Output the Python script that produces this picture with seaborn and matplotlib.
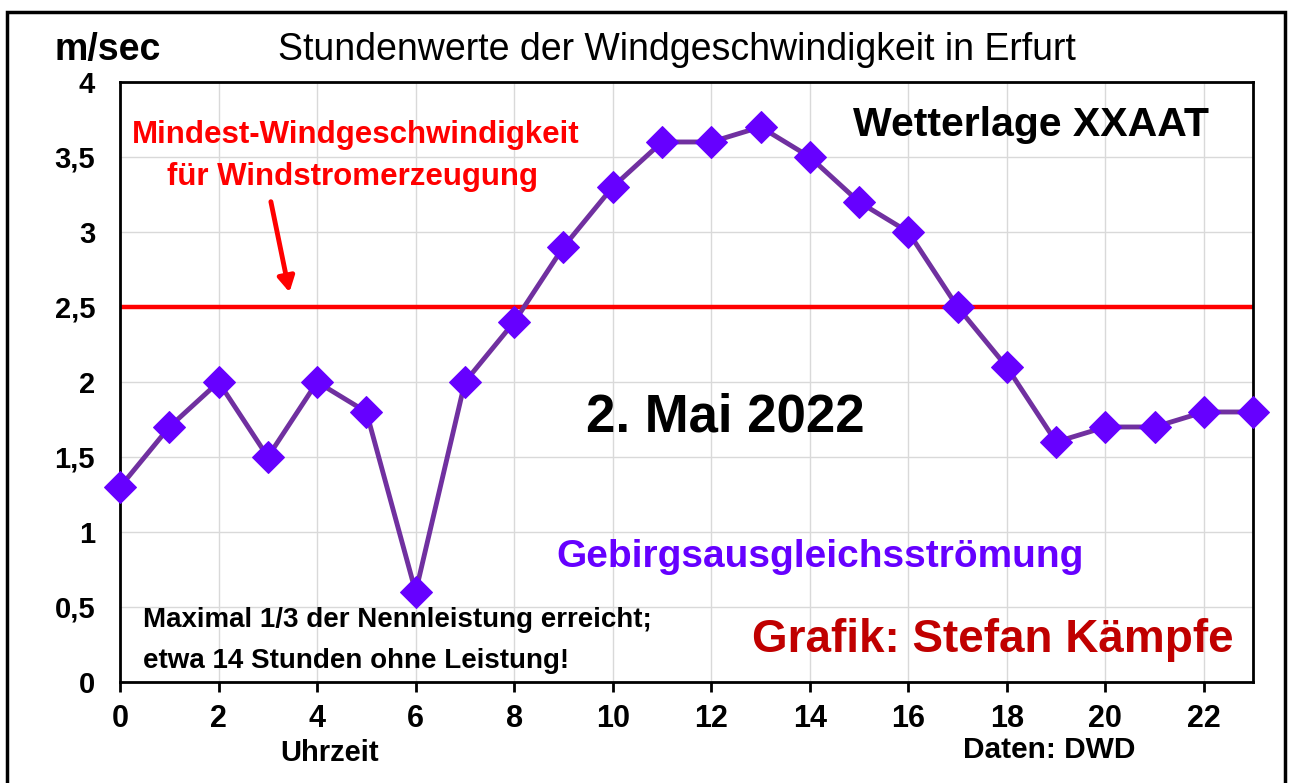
import numpy as np
import pandas as pd
import matplotlib
matplotlib.use("Agg")
import matplotlib.pyplot as plt
import seaborn as sns
from matplotlib.patches import Rectangle

# hourly wind speed Erfurt, 2 May 2022 (m/sec)
hours = list(range(24))
wind_speed = [1.3, 1.7, 2.0, 1.5, 2.0, 1.8, 0.6, 2.0, 2.4, 2.9, 3.3, 3.6,
              3.6, 3.7, 3.5, 3.2, 3.0, 2.5, 2.1, 1.6, 1.7, 1.7, 1.8, 1.8]
threshold = 2.5
x_ticks = list(range(0, 23, 2))
y_ticks = [0, 0.5, 1, 1.5, 2, 2.5, 3, 3.5, 4]
y_tick_labels = ["0", "0,5", "1", "1,5", "2", "2,5", "3", "3,5", "4"]

df = pd.DataFrame({"Uhrzeit": hours, "Wind": wind_speed})

sns.set_style("whitegrid")
plt.rcParams["font.family"] = ["Liberation Sans", "DejaVu Sans"]
plt.rcParams["text.color"] = "black"
plt.rcParams["xtick.color"] = "black"
plt.rcParams["ytick.color"] = "black"
plt.rcParams["axes.labelcolor"] = "black"

fig = plt.figure(figsize=(12.91, 7.83), dpi=100)
ax = fig.add_axes([0.093, 0.129, 0.8777, 0.7663])

ax.axhline(threshold, color="#FF0000", lw=3.2, zorder=2)
sns.lineplot(data=df, x="Uhrzeit", y="Wind", ax=ax, color="#7030A0", lw=3.5,
             marker="D", markersize=16, markerfacecolor="#6600FF",
             markeredgecolor="#6600FF", zorder=3, clip_on=False)

ax.set_xlim(0, 23)
ax.set_ylim(0, 4)
ax.set_xticks(x_ticks)
ax.set_yticks(y_ticks)
ax.set_yticklabels(y_tick_labels)
ax.set_xlabel("")
ax.set_ylabel("")
ax.grid(True, color="#D9D9D9", lw=1)
for s in ax.spines.values():
    s.set_color("black")
    s.set_linewidth(2)
    s.set_visible(True)
ax.tick_params(axis="x", direction="out", length=7, width=2, color="black",
               labelsize=22, pad=9, bottom=True)
ax.tick_params(axis="y", length=0, labelsize=21, pad=18)
for lab in ax.get_xticklabels() + ax.get_yticklabels():
    lab.set_fontweight("bold")

# arrow to threshold line
ax.annotate("", xy=(3.45, 2.58), xytext=(3.05, 3.22),
            arrowprops=dict(arrowstyle="-|>,head_length=0.9,head_width=0.5",
                            color="#FF0000", lw=3.5))

fig.text(0.042, 0.936, "m/sec", fontsize=27, fontweight="bold", va="center")
fig.text(0.524, 0.936, "Stundenwerte der Windgeschwindigkeit in Erfurt",
         fontsize=27, ha="center", va="center")
ax.text(4.79, 3.647, "Mindest-Windgeschwindigkeit", color="#FF0000", fontsize=22.5,
        fontweight="bold", ha="center", va="center")
ax.text(4.72, 3.367, "für Windstromerzeugung", color="#FF0000", fontsize=22.5,
        fontweight="bold", ha="center", va="center")
ax.text(18.5, 3.713, "Wetterlage XXAAT", fontsize=29.5, fontweight="bold",
        ha="center", va="center")
ax.text(12.28, 1.76, "2. Mai 2022", fontsize=38, fontweight="bold",
        ha="center", va="center")
ax.text(14.21, 0.833, "Gebirgsausgleichsströmung", color="#6600FF", fontsize=28,
        fontweight="bold", ha="center", va="center")
ax.text(0.467, 0.413, "Maximal 1/3 der Nennleistung erreicht;", fontsize=20,
        fontweight="bold", ha="left", va="center")
ax.text(0.467, 0.14, "etwa 14 Stunden ohne Leistung!", fontsize=20,
        fontweight="bold", ha="left", va="center")
ax.text(17.72, 0.28, "Grafik: Stefan Kämpfe", color="#C00000", fontsize=33,
        fontweight="bold", ha="center", va="center")
fig.text(0.255, 0.038, "Uhrzeit", fontsize=21, fontweight="bold", ha="center",
         va="center")
fig.text(0.813, 0.042, "Daten: DWD", fontsize=21.5, fontweight="bold",
         ha="center", va="center")

# outer frame
fig.patches.append(Rectangle((0.0054, -0.02), 0.99, 1.0047, transform=fig.transFigure,
                             fill=False, ec="black", lw=2.5, clip_on=False))

fig.savefig("out.png", dpi=100)
